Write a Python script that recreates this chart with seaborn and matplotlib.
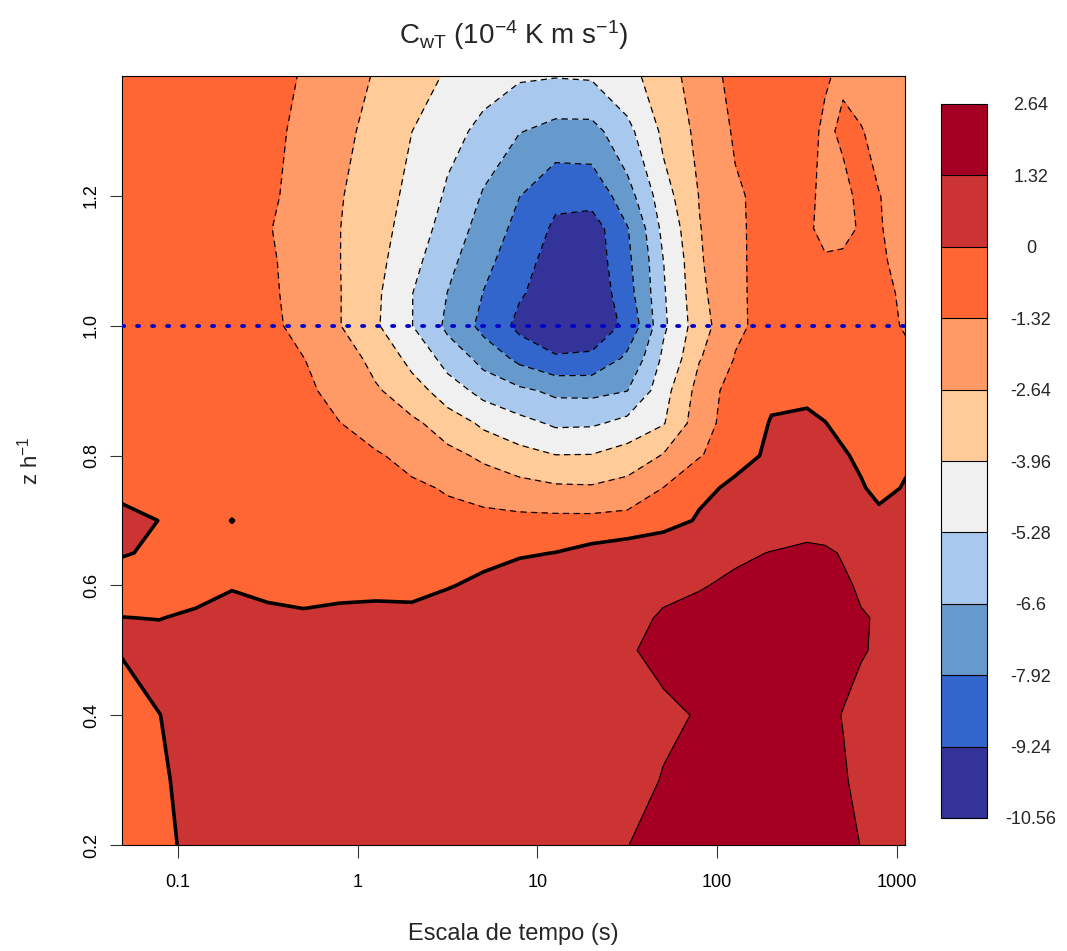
import numpy as np
import matplotlib
matplotlib.use("Agg")
import matplotlib.pyplot as plt
from matplotlib.ticker import NullLocator
import seaborn as sns

# time scale (s) columns and normalised height (z/h) rows
scale_s = [0.048, 0.079, 0.126, 0.2, 0.316, 0.5, 0.794, 1.26, 2.0, 3.16, 5.0, 7.94,
           12.6, 20.0, 31.6, 50.1, 79.4, 126.0, 200.0, 316.0, 398.0, 501.0, 631.0,
           794.0, 1122.0]
z_h = [0.2, 0.3, 0.4, 0.5, 0.55, 0.6, 0.65, 0.7, 0.75, 0.8, 0.85, 0.9, 0.95,
       1.0, 1.05, 1.1, 1.15, 1.2, 1.3, 1.4]

# C_wT (1e-4 K m/s), one list per height row
cwt_z020 = [-0.5, -0.15, 0.2, 0.45, 0.6, 0.7, 0.8, 0.85, 0.9, 0.95, 1.0, 1.05, 1.1, 1.2, 1.31, 1.55, 1.75, 1.9, 2.0, 1.95, 1.8, 1.55, 1.3, 1.1, 1.0]
cwt_z030 = [-0.35, -0.1, 0.3, 0.5, 0.65, 0.75, 0.8, 0.85, 0.9, 0.95, 1.0, 1.05, 1.1, 1.15, 1.2, 1.34, 1.5, 1.7, 1.85, 1.8, 1.6, 1.38, 1.15, 1.05, 1.0]
cwt_z040 = [-0.3, -0.01, 0.4, 0.55, 0.65, 0.75, 0.8, 0.85, 0.9, 0.95, 1.0, 1.05, 1.1, 1.15, 1.2, 1.25, 1.35, 1.5, 1.6, 1.55, 1.45, 1.3, 1.15, 1.05, 1.0]
cwt_z050 = [0.03, 0.3, 0.5, 0.6, 0.65, 0.7, 0.75, 0.8, 0.85, 0.9, 0.95, 1.0, 1.1, 1.2, 1.29, 1.42, 1.5, 1.6, 1.65, 1.65, 1.6, 1.5, 1.36, 1.25, 1.1]
cwt_z055 = [0.01, -0.02, 0.15, 0.42, 0.2, 0.12, 0.2, 0.24, 0.25, 0.4, 0.55, 0.7, 0.85, 1.0, 1.15, 1.4, 1.5, 1.6, 1.7, 1.75, 1.7, 1.6, 1.38, 1.25, 1.1]
cwt_z060 = [-0.3, -0.3, -0.35, -0.08, -0.22, -0.3, -0.24, -0.22, -0.27, -0.05, 0.2, 0.5, 0.6, 0.8, 1.0, 1.15, 1.28, 1.45, 1.6, 1.7, 1.65, 1.45, 1.2, 1.05, 1.0]
cwt_z065 = [0.05, -0.12, -0.45, -0.35, -0.5, -0.5, -0.5, -0.5, -0.5, -0.45, -0.28, -0.1, 0.02, 0.4, 0.7, 0.9, 1.05, 1.2, 1.35, 1.5, 1.45, 1.25, 1.1, 1.0, 0.95]
cwt_z070 = [0.35, -0.02, -0.4, 0.02, -0.55, -0.65, -0.7, -0.8, -0.85, -0.9, -0.95, -1.0, -1.0, -1.0, -0.9, -0.5, 0.15, 0.55, 0.8, 0.95, 0.9, 0.75, 0.6, 0.3, 0.5]
cwt_z075 = [-0.3, -0.35, -0.4, -0.45, -0.5, -0.6, -0.7, -0.85, -1.1, -1.45, -1.85, -2.2, -2.45, -2.5, -2.2, -1.3, -0.3, 0.3, 0.55, 0.7, 0.6, 0.4, 0.1, -0.3, 0.1]
cwt_z080 = [-0.35, -0.4, -0.45, -0.5, -0.6, -0.75, -0.95, -1.2, -1.74, -2.3, -2.9, -3.5, -3.92, -3.9, -3.4, -2.55, -1.4, -0.5, 0.3, 0.55, 0.4, 0.1, -0.2, -0.35, -0.2]
cwt_z085 = [-0.4, -0.45, -0.5, -0.55, -0.7, -0.95, -1.3, -1.87, -2.41, -3.27, -4.23, -4.9, -5.5, -5.45, -4.9, -4.05, -1.76, -0.7, 0.08, 0.3, 0.02, -0.25, -0.4, -0.5, -0.6]
cwt_z090 = [-0.45, -0.5, -0.55, -0.6, -0.8, -1.1, -1.75, -2.5, -3.4, -4.7, -5.73, -6.35, -6.9, -6.95, -6.62, -4.38, -2.1, -0.6, -0.25, -0.35, -0.35, -0.5, -0.65, -0.75, -0.9]
cwt_z095 = [-0.5, -0.55, -0.6, -0.7, -0.9, -1.3, -2.09, -3.04, -4.4, -5.79, -7.09, -8.3, -9.1, -9.0, -7.63, -5.02, -2.72, -1.25, -0.85, -0.8, -0.8, -0.85, -0.9, -1.0, -1.15]
cwt_z100 = [-0.55, -0.6, -0.65, -0.75, -1.0, -1.83, -2.6, -3.82, -5.25, -6.92, -8.33, -9.6, -10.2, -10.1, -8.9, -5.51, -3.1, -1.58, -0.7, -0.85, -0.9, -0.95, -1.0, -1.1, -1.4]
cwt_z105 = [-0.6, -0.65, -0.7, -0.8, -1.1, -1.87, -2.6, -3.76, -5.25, -6.62, -7.95, -9.1, -10.1, -10.1, -8.4, -5.41, -2.89, -1.56, -0.7, -0.9, -0.95, -1.0, -1.05, -1.15, -1.45]
cwt_z110 = [-0.65, -0.7, -0.75, -0.85, -1.15, -1.91, -2.62, -3.6, -4.94, -6.28, -7.59, -8.75, -9.9, -9.9, -8.2, -5.3, -2.76, -1.55, -0.7, -0.95, -1.2, -1.15, -1.1, -1.25, -1.5]
cwt_z115 = [-0.7, -0.75, -0.8, -0.9, -1.25, -1.93, -2.62, -3.5, -4.58, -5.9, -7.16, -8.37, -9.5, -9.8, -8.0, -4.89, -2.69, -1.54, -0.7, -1.15, -1.65, -1.6, -1.2, -1.28, -1.6]
cwt_z120 = [-0.75, -0.8, -0.85, -0.95, -1.1, -1.87, -2.56, -3.39, -4.34, -5.49, -6.73, -7.9, -8.9, -8.8, -7.1, -4.42, -2.6, -1.48, -0.8, -1.1, -1.6, -1.5, -1.15, -1.3, -1.65]
cwt_z130 = [-0.85, -0.9, -0.95, -1.0, -1.05, -1.62, -2.32, -3.11, -3.95, -4.82, -5.69, -6.55, -7.0, -7.0, -5.6, -3.66, -2.24, -1.15, -0.85, -1.1, -1.45, -1.2, -1.28, -1.55, -1.8]
cwt_z140 = [-0.9, -0.95, -1.0, -1.05, -1.15, -1.35, -2.0, -2.7, -3.3, -4.0, -4.4, -4.85, -4.9, -4.8, -4.2, -3.25, -1.7, -1.0, -0.9, -1.0, -1.2, -1.45, -1.7, -1.8, -1.9]

levels = [-10.56, -9.24, -7.92, -6.6, -5.28, -3.96, -2.64, -1.32, 0, 1.32, 2.64]
level_labels = ["-10.56", "-9.24", "-7.92", "-6.6", "-5.28", "-3.96", "-2.64",
                "-1.32", "0", "1.32", "2.64"]
band_colors = ["#333399", "#3366CC", "#6699CC", "#A8C8EE", "#F0F0F0",
               "#FFCC99", "#FF9966", "#FF6633", "#CC3333", "#A50021"]
x_ticks = [0.1, 1, 10, 100, 1000]
x_ticklabels = ["0.1", "1", "10", "100", "1000"]
y_ticks = [0.2, 0.4, 0.6, 0.8, 1.0, 1.2]
y_ticklabels = ["0.2", "0.4", "0.6", "0.8", "1.0", "1.2"]
pbl_top = 1.0

sns.set_theme(style="ticks")
plt.rcParams['font.family'] = ['Liberation Sans', 'DejaVu Sans']
plt.rcParams['mathtext.fontset'] = 'custom'
plt.rcParams['mathtext.rm'] = 'Liberation Sans'
plt.rcParams['mathtext.it'] = 'Liberation Sans:italic'
plt.rcParams['axes.unicode_minus'] = False

palette = sns.color_palette(band_colors)

fig = plt.figure(figsize=(10.67, 9.51), dpi=100)
ax = fig.add_axes([122 / 1067, 1 - 845 / 951, 783 / 1067, 769 / 951])
cax = fig.add_axes([941 / 1067, 1 - 818 / 951, 46 / 1067, 714 / 951])

C = np.array([cwt_z020, cwt_z030, cwt_z040, cwt_z050, cwt_z055, cwt_z060, cwt_z065,
              cwt_z070, cwt_z075, cwt_z080, cwt_z085, cwt_z090, cwt_z095, cwt_z100,
              cwt_z105, cwt_z110, cwt_z115, cwt_z120, cwt_z130, cwt_z140])
X, Y = np.meshgrid(scale_s, z_h)

cf = ax.contourf(X, Y, C, levels=levels, colors=palette)
neg_levels = [l for l in levels[1:-1] if l < 0]
ax.contour(X, Y, C, levels=neg_levels, colors='black', linewidths=0.9,
           linestyles=[(0, (5, 3.5))])
ax.contour(X, Y, C, levels=[0], colors='black', linewidths=2.6)
ax.contour(X, Y, C, levels=[1.32], colors='black', linewidths=0.8)

ax.set_xscale('log')
ax.set_xlim(0.0489, 1108)
ax.set_ylim(0.2, 1.385)

ax.axhline(pbl_top, color='#0000CC', lw=2.7, linestyle=(0, (0.6, 3.4)),
           dash_capstyle='round', zorder=5)

ax.set_xticks(x_ticks)
ax.set_xticklabels(x_ticklabels)
ax.xaxis.set_minor_locator(NullLocator())
ax.set_yticks(y_ticks)
ax.set_yticklabels(y_ticklabels, rotation=90, va='center')
ax.tick_params(axis='both', direction='out', length=9, width=0.8,
               color='#333333', labelcolor='black', labelsize=13)
ax.tick_params(axis='x', pad=12)
ax.tick_params(axis='y', pad=7)
for sp in ax.spines.values():
    sp.set_color('black')
    sp.set_linewidth(0.8)

ax.set_xlabel("Escala de tempo (s)", fontsize=17)
ax.xaxis.set_label_coords(0.5, -(923 - 845) / 769)
ax.set_ylabel(r"z h$^{\mathregular{-1}}$", fontsize=16)
ax.yaxis.set_label_coords((43 - 122) / 783, 0.5)
ax.set_title(r"C$_{\mathregular{wT}}$ (10$^{\mathregular{-4}}$ K m s$^{\mathregular{-1}}$)",
             fontsize=20, pad=23)

cbar = fig.colorbar(cf, cax=cax, drawedges=True)
cbar.outline.set_linewidth(0.8)
cbar.outline.set_edgecolor('black')
cbar.dividers.set_color('black')
cbar.dividers.set_linewidth(0.8)
cbar.set_ticks(levels)
cbar.set_ticklabels(level_labels)
cax.tick_params(length=0, pad=31.7, labelsize=13)
for lbl in cax.get_yticklabels():
    lbl.set_horizontalalignment('center')

fig.savefig("out.png", dpi=100)
